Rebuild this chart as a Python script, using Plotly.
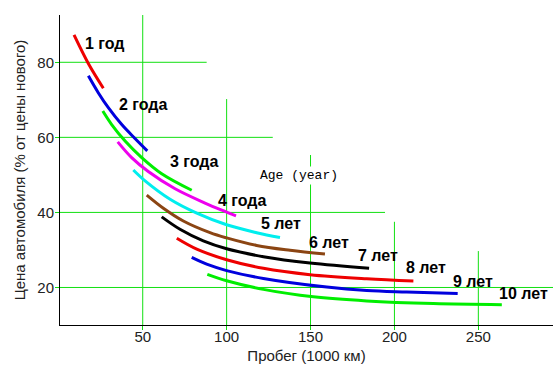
import plotly.graph_objects as go

labels = ["1 год", "2 года", "3 года", "4 года", "5 лет", "6 лет", "7 лет", "8 лет", "9 лет", "10 лет"]
xs = [
    [9.06, 17.58, 26.52],
    [17.6, 23.5, 29.5, 37.5, 45.4, 52.7],
    [26.2, 31.5, 39.5, 49.4, 61.3, 79.2],
    [35.1, 43.4, 53.3, 69.3, 87.1, 97.1, 105.6],
    [44.4, 51.4, 66.3, 82.2, 100.0, 117.9, 131.8],
    [52.4, 62.3, 74.2, 90.1, 100.0, 117.9, 137.8, 158.6],
    [61.3, 72.2, 86.1, 100.0, 121.9, 149.7, 184.9],
    [70.3, 82.2, 100.0, 121.9, 149.7, 183.5, 211.3],
    [79.2, 88.1, 100.0, 121.9, 159.7, 183.5, 207.3, 237.7],
    [88.5, 100.0, 121.9, 151.7, 183.5, 223.2, 264.0],
]
ys = [
    [87.3, 79.7, 73.1],
    [76.4, 71.9, 67.9, 63.4, 59.7, 56.4],
    [67.0, 63.4, 59.0, 54.6, 50.3, 45.9],
    [58.8, 54.6, 50.9, 46.3, 42.5, 40.6, 39.1],
    [51.3, 48.4, 43.5, 39.8, 36.7, 34.6, 33.3],
    [44.6, 41.1, 37.7, 34.6, 33.2, 31.2, 29.9, 28.9],
    [38.8, 35.5, 32.4, 30.3, 28.2, 26.5, 25.1],
    [33.1, 30.2, 27.4, 25.1, 23.4, 22.3, 21.7],
    [28.0, 26.2, 24.5, 22.4, 20.1, 19.2, 18.8, 18.4],
    [23.5, 21.8, 19.5, 17.5, 16.4, 15.7, 15.4],
]
colors = ["#ee0000", "#0000dd", "#00ee00", "#ee00ee", "#00eeee",
          "#8b4513", "#000000", "#ee0000", "#0000dd", "#00ee00"]
label_x = [14.4, 34.5, 64.9, 93.7, 119.5, 147.7, 177.1, 205.7, 233.5, 261.3]
label_y = [85.1, 68.8, 53.5, 43.3, 37.1, 32.0, 28.6, 25.2, 21.7, 18.4]

x_ticks = [50, 100, 150, 200, 250]
y_ticks = [20, 40, 60, 80]

# partial grid lines
h_grid_y = [80, 60, 40, 20]
h_grid_xend = [88.1, 127.5, 194.4, 294.5]
v_grid_x = [50, 100, 150, 200, 250]
v_grid_ytop = [92.6, 70.2, 55.3, 37.5, 29.7]

x_range = [0.7, 294.5]
y_range = [10, 92.6]

fig = go.Figure()

grid_color = "#11e011"
shapes = []
for yv, xe in zip(h_grid_y, h_grid_xend):
    shapes.append(dict(type="line", xref="x", yref="y", x0=x_range[0], x1=xe, y0=yv, y1=yv,
                       line=dict(color=grid_color, width=1), layer="below"))
for xv, yt in zip(v_grid_x, v_grid_ytop):
    shapes.append(dict(type="line", xref="x", yref="y", x0=xv, x1=xv, y0=y_range[0], y1=yt,
                       line=dict(color=grid_color, width=1), layer="below"))

for lab, x, y, c in zip(labels, xs, ys, colors):
    fig.add_trace(go.Scatter(x=x, y=y, mode="lines", name=lab,
                             line=dict(color=c, width=3, shape="spline", smoothing=1.0),
                             showlegend=False, hoverinfo="skip"))

annotations = []
for lab, lx, ly in zip(labels, label_x, label_y):
    annotations.append(dict(x=lx, y=ly, xref="x", yref="y", text="<b>" + lab + "</b>", showarrow=False,
                            xanchor="left", yanchor="middle",
                            font=dict(family="Liberation Sans, Arial, sans-serif", size=16, color="black")))
annotations.append(dict(x=143.1, y=49.8, xref="x", yref="y", text="Age (year)", showarrow=False,
                        xanchor="center", yanchor="middle", bgcolor="white",
                        font=dict(family="Liberation Mono, Courier New, monospace", size=13, color="black")))

fig.update_layout(
    width=559, height=377,
    margin=dict(l=60, r=6, t=15, b=52),
    paper_bgcolor="white", plot_bgcolor="white",
    shapes=shapes, annotations=annotations,
    font=dict(family="Liberation Sans, Arial, sans-serif", size=15, color="#222222"),
    xaxis=dict(range=x_range, tickvals=x_ticks, showgrid=False, zeroline=False,
               showline=True, linecolor="black", linewidth=1, ticks="outside", ticklen=4,
               tickcolor=grid_color, tickfont=dict(size=15, color="#222222"), automargin=False,
               ticklabelstandoff=-6,
               title=dict(text="Пробег (1000 км)", font=dict(size=15, color="#222222"), standoff=6)),
    yaxis=dict(range=y_range, tickvals=y_ticks, showgrid=False, zeroline=False,
               showline=True, linecolor="black", linewidth=1, ticks="outside", ticklen=4,
               tickcolor=grid_color, tickfont=dict(size=15, color="#222222"), automargin=False,
               ticklabelstandoff=-2,
               title=dict(text="Цена автомобиля (% от цены нового)", font=dict(size=15, color="#222222"), standoff=8)),
)

fig.write_html("out.html", config={"displayModeBar": False},
               post_script="document.body.style.margin='0px';")
